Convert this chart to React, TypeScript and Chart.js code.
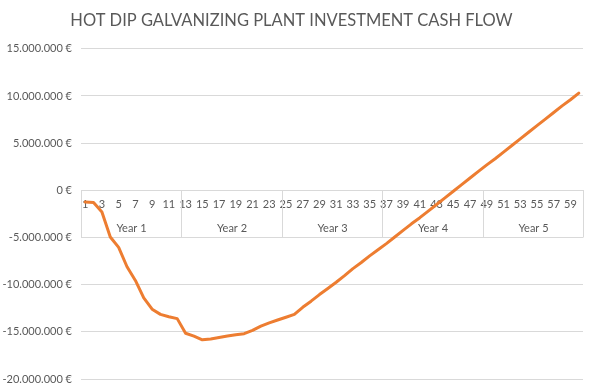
import React, { useEffect, useRef } from "react";
import { Chart, registerables } from "chart.js";

Chart.register(...registerables);

const chartTitle = "HOT DIP GALVANIZING PLANT INVESTMENT CASH FLOW";

const months = [
  "1", "2", "3", "4", "5", "6", "7", "8", "9", "10", "11", "12",
  "13", "14", "15", "16", "17", "18", "19", "20", "21", "22", "23", "24",
  "25", "26", "27", "28", "29", "30", "31", "32", "33", "34", "35", "36",
  "37", "38", "39", "40", "41", "42", "43", "44", "45", "46", "47", "48",
  "49", "50", "51", "52", "53", "54", "55", "56", "57", "58", "59", "60",
];

const years = ["Year 1", "Year 2", "Year 3", "Year 4", "Year 5"];
const monthsPerYear = 12;

const cashFlow = [
  -1240000, -1300000, -2300000, -4950000, -6050000, -8100000,
  -9550000, -11400000, -12600000, -13150000, -13400000, -13600000,
  -15150000, -15450000, -15850000, -15750000, -15600000, -15450000,
  -15300000, -15200000, -14850000, -14400000, -14050000, -13750000,
  -13450000, -13150000, -12400000, -11750000, -11050000, -10400000,
  -9750000, -9050000, -8300000, -7650000, -6950000, -6300000,
  -5650000, -4950000, -4250000, -3550000, -2900000, -2200000,
  -1500000, -800000, -100000, 600000, 1300000, 2000000,
  2700000, 3350000, 4050000, 4750000, 5450000, 6150000,
  6850000, 7550000, 8250000, 8950000, 9600000, 10300000,
];

const yMin = -20000000;
const yMax = 15000000;
const yStep = 5000000;

const textColor = "#595959";
const gridColor = "#d9d9d9";
const lineColor = "#ED7D31";
const fontFamily = "Lato, 'Open Sans', sans-serif";

function formatEuro(v: number): string {
  const sign = v < 0 ? "-" : "";
  const s = Math.abs(Math.round(v))
    .toString()
    .replace(/\B(?=(\d{3})+(?!\d))/g, ".");
  return sign + s + " €";
}

const yearBoxPlugin = {
  id: "yearBox",
  beforeDatasetsDraw(chart: any) {
    const { ctx, chartArea } = chart;
    const x = chart.scales.x;
    const y = chart.scales.y;
    const top = Math.round(y.getPixelForValue(0)) + 0.5;
    const bottom = top + 47;
    const left = chartArea.left;
    const right = chartArea.right;
    ctx.save();
    ctx.strokeStyle = gridColor;
    ctx.lineWidth = 1;
    ctx.beginPath();
    ctx.moveTo(left, bottom);
    ctx.lineTo(right, bottom);
    const bounds: number[] = [];
    for (let k = 0; k <= years.length; k++) {
      const idx = k * monthsPerYear;
      let px: number;
      if (idx === 0) px = left;
      else if (idx >= months.length) px = right;
      else px = (x.getPixelForValue(idx - 1) + x.getPixelForValue(idx)) / 2;
      px = Math.round(px) + 0.5;
      bounds.push(px);
      ctx.moveTo(px, top);
      ctx.lineTo(px, bottom);
    }
    ctx.stroke();
    ctx.fillStyle = textColor;
    ctx.font = `11px ${fontFamily}`;
    ctx.textAlign = "center";
    ctx.textBaseline = "middle";
    for (let k = 0; k < years.length; k++) {
      ctx.fillText(years[k], (bounds[k] + bounds[k + 1]) / 2, top + 38);
    }
    ctx.restore();
  },
};

export default function App() {
  const canvasRef = useRef<HTMLCanvasElement | null>(null);

  useEffect(() => {
    if (!canvasRef.current) return;
    const chart = new Chart(canvasRef.current, {
      type: "line",
      data: {
        labels: months,
        datasets: [
          {
            data: cashFlow,
            borderColor: lineColor,
            backgroundColor: lineColor,
            borderWidth: 3,
            pointRadius: 0,
            tension: 0,
            fill: false,
            borderCapStyle: "round",
            borderJoinStyle: "round",
          },
        ],
      },
      options: {
        responsive: false,
        animation: false,
        layout: { padding: { left: 0, right: 8, top: 0, bottom: 12 } },
        plugins: {
          legend: { display: false },
          tooltip: { enabled: false },
          title: {
            display: true,
            text: chartTitle,
            color: textColor,
            font: { family: fontFamily, size: 16.5, weight: "normal" },
            padding: { top: 11, bottom: 18 },
          },
        },
        scales: {
          x: {
            type: "category",
            position: { y: 0 },
            offset: true,
            grid: { display: false, drawTicks: false },
            border: { display: true, color: gridColor, width: 1 },
            ticks: {
              autoSkip: false,
              maxRotation: 0,
              minRotation: 0,
              padding: 8,
              color: textColor,
              font: { family: fontFamily, size: 11 },
              callback: (_v: any, i: number) => (i % 2 === 0 ? months[i] : ""),
            },
            afterFit: (s: any) => {
              s.height = 0;
            },
          },
          y: {
            min: yMin,
            max: yMax,
            grid: { color: gridColor, drawTicks: false },
            border: { display: false },
            ticks: {
              stepSize: yStep,
              padding: 9,
              color: textColor,
              font: { family: fontFamily, size: 11 },
              callback: (v: any) => formatEuro(Number(v)),
            },
            afterFit: (s: any) => {
              s.width = 81;
              s.paddingTop = 0;
              s.paddingBottom = 0;
            },
          },
        },
      } as any,
      plugins: [yearBoxPlugin],
    });
    return () => chart.destroy();
  }, []);

  return (
    <div style={{ position: "absolute", left: 0, top: 0, width: 591, height: 391, background: "#fff" }}>
      <canvas ref={canvasRef} width={591} height={391} />
    </div>
  );
}
